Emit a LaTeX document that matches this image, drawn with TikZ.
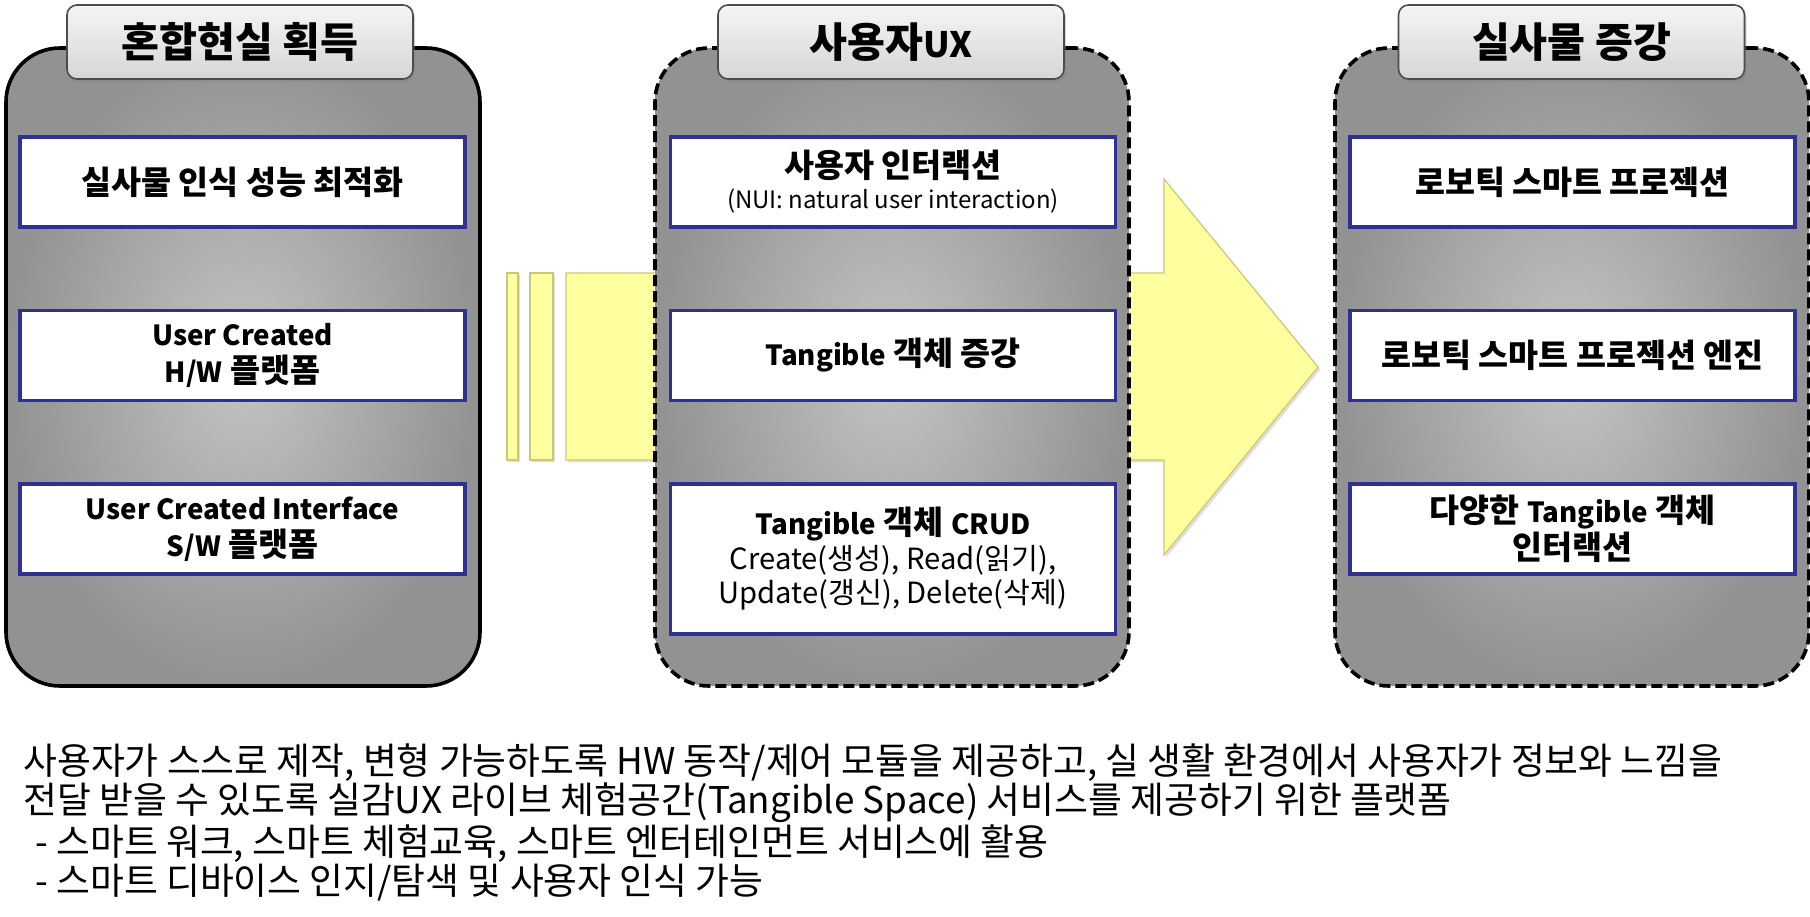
\documentclass[tikz,border=0pt]{standalone}
\usepackage{fontspec}
\setmainfont{Noto Sans CJK KR}
\newfontfamily\latinfont{Noto Sans CJK KR}[Scale=0.85]
\usepackage{tikz}
\usetikzlibrary{positioning, shadows}

\definecolor{boxblue}{RGB}{46,49,146}
\definecolor{arrowfill}{RGB}{255,255,160}
\definecolor{arrowline}{RGB}{200,200,120}
\definecolor{panellight}{RGB}{196,196,196}
\definecolor{paneldark}{RGB}{146,146,146}
\newcommand{\lighttext}[1]{{\mdseries\fontsize{12}{16}\selectfont #1}}
\newcommand{\crudtext}[1]{{\mdseries\fontsize{14.6}{17.5}\selectfont #1}}
\newcommand{\en}[1]{{\latinfont #1}}

\begin{document}
\begin{tikzpicture}[
        x=0.5pt, y=-0.5pt,
        node distance=40pt,
        panel/.style={draw, rectangle, rounded corners=27pt, line width=1.8pt, shading=radial, inner color=panellight, outer color=paneldark, minimum width=237pt, minimum height=319pt},
        dashpanel/.style={panel, dash pattern=on 5.5pt off 2.5pt},
        tab/.style={rectangle, rounded corners=5pt, draw=black!70, line width=0.8pt, top color=gray!8, bottom color=gray!32, minimum width=173pt, minimum height=37pt, font=\bfseries\fontsize{20.6}{24}\selectfont, drop shadow={opacity=0.35, shadow xshift=1pt, shadow yshift=-1.5pt}},
        item/.style={rectangle, draw=boxblue, line width=1.7pt, fill=white, align=center, minimum width=222.5pt, minimum height=45pt, inner sep=2pt, font=\bfseries\fontsize{16.3}{18.5}\selectfont},
        flow/.style={fill=arrowfill, draw=arrowline, line width=0.6pt, drop shadow={opacity=0.25, shadow xshift=1.2pt, shadow yshift=-1.2pt}}
    ]
        \useasboundingbox (0,0) rectangle (1810,916);

        % Arrow behind the panels
        \path[flow] (507,273) rectangle (518,460);
        \path[flow] (530,273) rectangle (553,460);
        \path[flow] (566,273) -- (1164,273) -- (1164,179) -- (1318,367) -- (1164,555) -- (1164,460) -- (566,460) -- cycle;

        % Panels
        \node[panel] (mixpanel) at (243,367) {};
        \node[dashpanel] (uxpanel) at (892,367) {};
        \node[dashpanel] (augpanel) at (1572,367) {};

        % Titles
        \node[tab] (mixtab) at (240,42) {혼합현실 획득};
        \node[tab] (uxtab) at (891,42) {사용자\en{UX}};
        \node[tab] (augtab) at (1571.5,42) {실사물 증강};

        % Left column
        \node[item] (mix1) at (242.5,182) {실사물 인식 성능 최적화};
        \node[item, below=of mix1] (mix2) {\en{User Created}\\\en{H/W} 플랫폼};
        \node[item, below=of mix2] (mix3) {\en{User Created Interface}\\\en{S/W} 플랫폼};

        % Middle column
        \node[item] (ux1) at (893,182) {사용자 인터랙션\\[-3pt]\lighttext{(NUI: natural user interaction)}};
        \node[item, below=of ux1] (ux2) {\en{Tangible} 객체 증강};
        \node[item, below=of ux2, minimum height=75pt] (ux3) {\en{Tangible} 객체 \en{CRUD}\\[-1.3pt]\crudtext{Create(생성), Read(읽기),}\\[-1.3pt]\crudtext{Update(갱신), Delete(삭제)}};

        % Right column
        \node[item] (aug1) at (1572.5,182) {로보틱 스마트 프로젝션};
        \node[item, below=of aug1] (aug2) {로보틱 스마트 프로젝션 엔진};
        \node[item, below=of aug2] (aug3) {다양한 \en{Tangible} 객체\\인터랙션};

        % Summary text
        \node[anchor=north west, inner sep=0pt, align=left, font=\fontsize{18.4}{19.5}\selectfont] (summary) at (23,743) {사용자가 스스로 제작, 변형 가능하도록 HW 동작/제어 모듈을 제공하고, 실 생활 환경에서 사용자가 정보와 느낌을\\전달 받을 수 있도록 실감UX 라이브 체험공간(Tangible Space) 서비스를 제공하기 위한 플랫폼\\\hspace{6pt}- 스마트 워크, 스마트 체험교육, 스마트 엔터테인먼트 서비스에 활용\\\hspace{6pt}- 스마트 디바이스 인지/탐색 및 사용자 인식 가능};
    \end{tikzpicture}
\end{document}
